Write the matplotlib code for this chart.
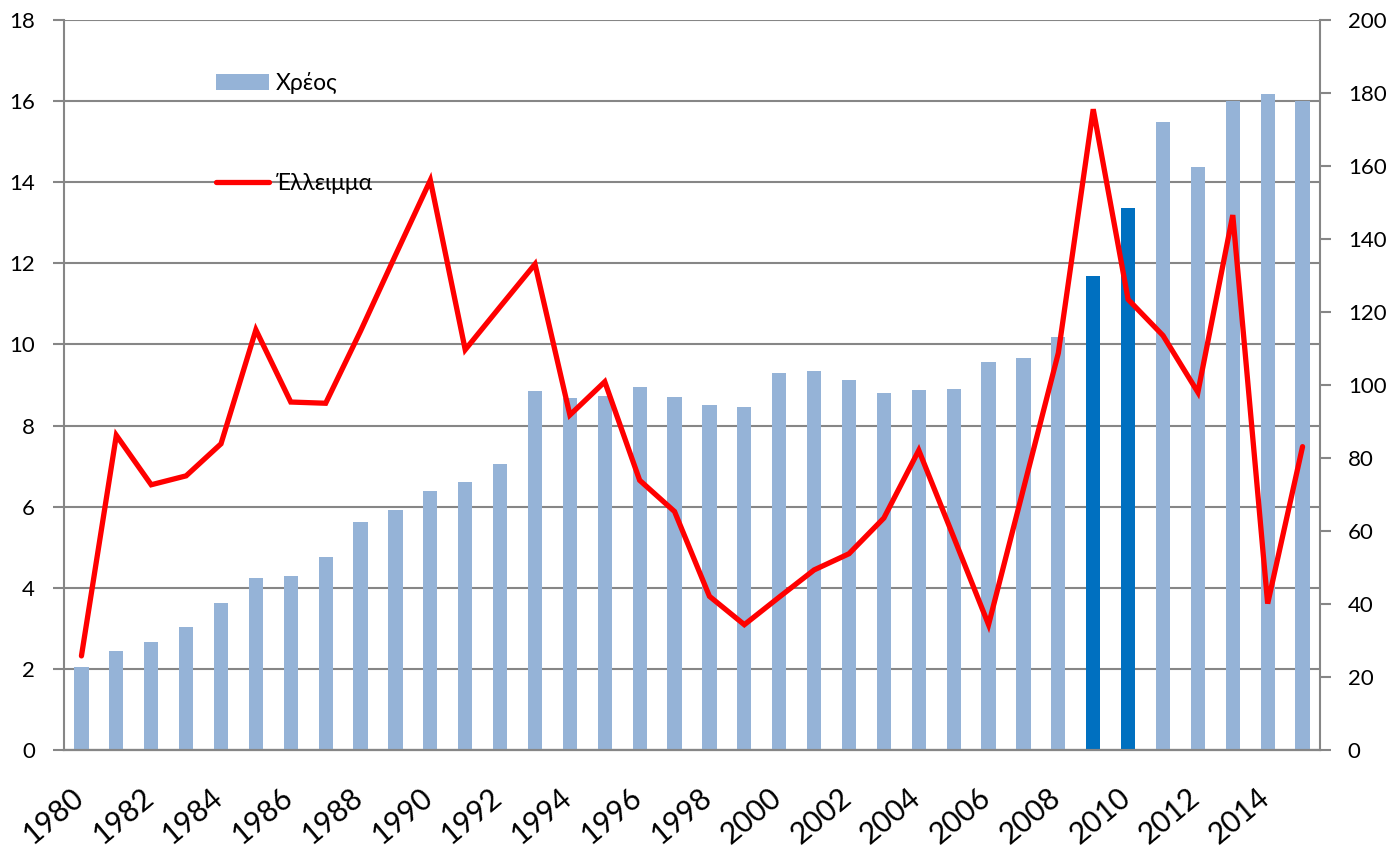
import matplotlib.pyplot as plt
from matplotlib.transforms import ScaledTranslation
import numpy as np

plt.rcParams['font.family'] = ['Lato', 'DejaVu Sans']

years = list(range(1980, 2016))
# debt, % of GDP (right axis, bars)
debt = [22.7, 27.0, 29.6, 33.8, 40.4, 47.0, 47.6, 53.0, 62.6, 65.7,
        71.0, 73.3, 78.4, 98.3, 96.4, 97.1, 99.5, 96.6, 94.4, 93.9,
        103.4, 103.7, 101.5, 97.9, 98.7, 98.9, 106.2, 107.4, 113.1, 129.9,
        148.5, 172.0, 159.6, 177.8, 179.8, 177.8]
# deficit, % of GDP (left axis, line)
deficit = [2.32, 7.76, 6.54, 6.76, 7.55, 10.36, 8.58, 8.55, 10.33, 12.2,
           14.05, 9.87, 10.93, 11.98, 8.26, 9.08, 6.65, 5.88, 3.79, 3.09,
           3.77, 4.44, 4.84, 5.72, 7.39, 5.25, 3.09, 6.44, 9.79, 15.80,
           11.11, 10.22, 8.82, 13.19, 3.61, 7.48]
highlight_years = [2009, 2010]
label_debt = 'Χρέος'
label_deficit = 'Έλλειμμα'

bar_color = '#95B3D7'
hi_color = '#0070C0'
grid_color = '#868686'

x = np.arange(len(years))
colors = [hi_color if y in highlight_years else bar_color for y in years]

fig = plt.figure(figsize=(13.97, 8.48), dpi=100)
ax = fig.add_axes([64/1397, 98/848, 1256/1397, 730/848])
ax2 = ax.twinx()   # bars, right scale
ax3 = ax.twinx()   # line, left scale, drawn on top

# left axis: grid + ticks
ax.set_ylim(0, 18)
ax.set_yticks(np.arange(0, 19, 2))
ax.yaxis.grid(True, color=grid_color, linewidth=1.5)
ax.set_axisbelow(True)
ax.tick_params(axis='y', length=8, width=1.5, color=grid_color, labelsize=16, pad=13)

# bars
ax2.bar(x, debt, width=0.41, color=colors, edgecolor='none', label=label_debt)
ax2.set_ylim(0, 200)
ax2.set_yticks(np.arange(0, 201, 20))
ax2.tick_params(axis='y', length=8, width=1.5, color=grid_color, labelsize=16, pad=12)

# line
ax3.plot(x, deficit, color='#FF0000', linewidth=3.8, solid_capstyle='round',
         solid_joinstyle='miter', label=label_deficit)
ax3.set_ylim(0, 18)
ax3.set_yticks([])

for a in (ax, ax2, ax3):
    a.set_xlim(-0.5, len(years) - 0.5)
    a.spines['top'].set_visible(False)
    for s in ('left', 'right', 'bottom'):
        a.spines[s].set_color(grid_color)
        a.spines[s].set_linewidth(1.5)
ax2.spines['left'].set_visible(False)
ax3.spines['left'].set_visible(False)
ax3.spines['right'].set_visible(False)
ax.spines['right'].set_visible(False)

# x axis: tick marks between categories, labels every other year
ax.set_xticks(np.arange(-0.5, len(years), 1.0))
ax.set_xticklabels([])
ax.tick_params(axis='x', length=11, width=1.5, color=grid_color)
lab_pos = [i for i, y in enumerate(years) if y % 2 == 0]
ax.set_xticks(lab_pos, minor=True)
ax.set_xticklabels([str(years[i]) for i in lab_pos], minor=True)
ax.tick_params(axis='x', which='minor', length=0, labelsize=21.5, pad=36.5)
offset = ScaledTranslation(4 / 100, 0, fig.dpi_scale_trans)
for t in ax.get_xticklabels(minor=True):
    t.set_rotation(40)
    t.set_ha('right')
    t.set_va('baseline')
    t.set_rotation_mode('anchor')
    t.set_transform(t.get_transform() + offset)
ax2.set_xticks([])
ax3.set_xticks([])

# legend
h1, l1 = ax2.get_legend_handles_labels()
h2, l2 = ax3.get_legend_handles_labels()
ax3.legend(h1 + h2, l1 + l2, loc='upper left', bbox_to_anchor=(0.121, 0.929),
           frameon=False, fontsize=16.5, labelspacing=3.45, handlelength=2.3,
           handletextpad=0.3, borderpad=0, borderaxespad=0)

fig.savefig('out.png', dpi=100)
